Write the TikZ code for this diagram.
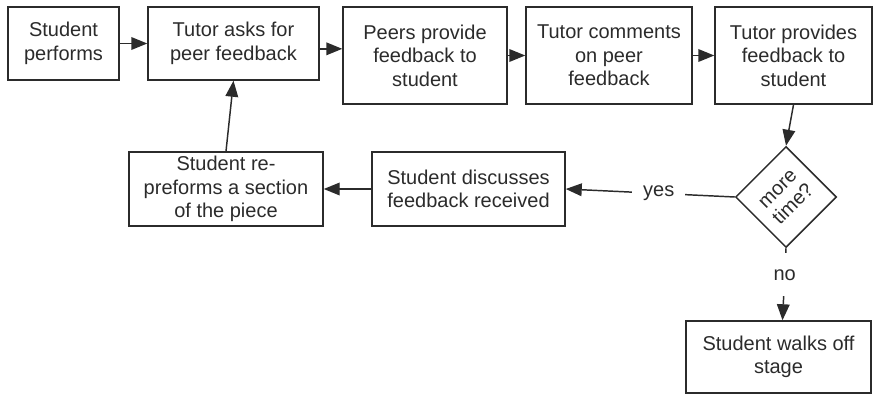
\documentclass[tikz,border=0pt]{standalone}
\usepackage{fontspec}
\setmainfont{Liberation Sans}
\usetikzlibrary{arrows.meta,calc}
\definecolor{ink}{HTML}{2B2B2B}
\tikzset{myarr/.tip={Triangle[length=12pt,width=9.5pt]}}
\begin{document}
\begin{tikzpicture}[x=0.75pt,y=-0.75pt,
  box/.style={draw=ink,line width=1.1pt,align=center,text=ink,inner sep=2pt,
    font=\fontsize{15}{17.6}\selectfont},
  dia/.style={draw=ink,line width=1.1pt,align=center,text=ink,inner sep=0pt,
    minimum size=53.25pt,rotate=45,font=\fontsize{15}{16.5}\selectfont},
  arr/.style={draw=ink,line width=1.1pt,-myarr},
  lbl/.style={fill=white,text=ink,font=\fontsize{15}{17.6}\selectfont}]
\useasboundingbox (0,0) rectangle (874,395);
\node[box,minimum width=83.25pt,minimum height=54.75pt] (b1) at (63.5,43.5) {Student\\performs};
\node[box,minimum width=128.25pt,minimum height=54.75pt] (b2) at (233.5,43.5) {Tutor asks for\\peer feedback};
\node[box,minimum width=123pt,minimum height=72.75pt] (b3) at (425,55.5) {Peers provide\\feedback to\\student};
\node[box,minimum width=124.5pt,minimum height=72.75pt] (b4) at (609,55.5) {Tutor comments\\on peer\\feedback};
\node[box,minimum width=117.75pt,minimum height=72.75pt] (b5) at (793.5,55.5) {Tutor provides\\feedback to\\student};
\node[box,minimum width=145.5pt,minimum height=55.5pt] (b6) at (226,189) {Student re-\\preforms a section\\of the piece};
\node[box,minimum width=144.75pt,minimum height=55.5pt] (b7) at (468.5,189) {Student discusses\\feedback received};
\node[dia] (d) at (786,197) {more\\time?};
\node[box,minimum width=138.75pt,minimum height=54pt] (b8) at (778.5,357) {Student walks off\\stage};

\draw[arr] (b1.east) -- (b2.west);
\draw[arr] ([yshift=-4pt]b2.east) -- ([yshift=-4pt]b2.east -| b3.west);
\draw[arr] (b3.east) -- (b4.west);
\draw[arr] (b4.east) -- (b5.west);
\draw[arr] (b5.south) -- (d.north east);
\draw[arr] (d.north west) -- node[lbl,pos=0.45,inner xsep=8pt]{yes} (b7.east);
\draw[arr] (b7.west) -- (b6.east);
\draw[arr] (b6.north) -- (b2.south);
\draw[arr] (d.south west) -- node[lbl,pos=0.37,inner ysep=12pt]{no} ([xshift=3pt]b8.north);
\end{tikzpicture}
\end{document}
